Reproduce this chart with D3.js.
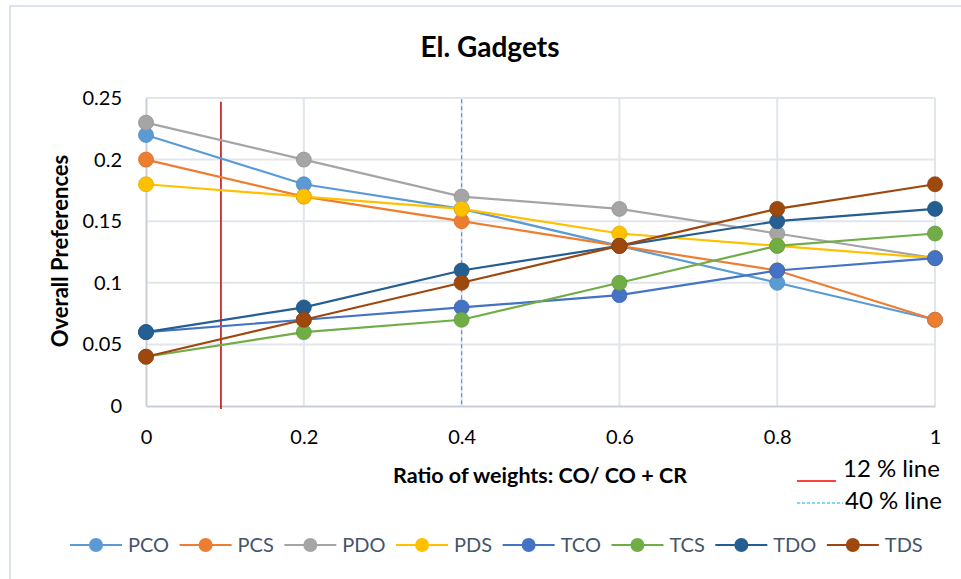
<!DOCTYPE html>
<html>
<head>
<meta charset="utf-8">
<script src="https://cdn.jsdelivr.net/npm/d3@7"></script>
<style>
  body { margin: 0; background: #fff; }
  svg { font-family: Lato, "Open Sans", sans-serif; }
</style>
</head>
<body>
<div id="chart"></div>
<script>
// values
const ratios = [0, 0.2, 0.4, 0.6, 0.8, 1]
const seriesNames = ['PCO', 'PCS', 'PDO', 'PDS', 'TCO', 'TCS', 'TDO', 'TDS']
const PCO = [0.22, 0.18, 0.16, 0.13, 0.10, 0.07]
const PCS = [0.20, 0.17, 0.15, 0.13, 0.11, 0.07]
const PDO = [0.23, 0.20, 0.17, 0.16, 0.14, 0.12]
const PDS = [0.18, 0.17, 0.16, 0.14, 0.13, 0.12]
const TCO = [0.06, 0.07, 0.08, 0.09, 0.11, 0.12]
const TCS = [0.04, 0.06, 0.07, 0.10, 0.13, 0.14]
const TDO = [0.06, 0.08, 0.11, 0.13, 0.15, 0.16]
const TDS = [0.04, 0.07, 0.10, 0.13, 0.16, 0.18]
const xTicks = [0, 0.2, 0.4, 0.6, 0.8, 1]
const yTicks = [0, 0.05, 0.1, 0.15, 0.2, 0.25]
const redLineAt = 0.095
const blueLineAt = 0.4

const colors = ['#5b9bd5', '#ed7d31', '#a5a5a5', '#ffc000', '#4472c4', '#70ad47', '#255e91', '#9e480e']
const values = [PCO, PCS, PDO, PDS, TCO, TCS, TDO, TDS]

const W = 961, H = 579
const margin = {top: 98, right: 26, bottom: 173, left: 146}
const width = W - margin.left - margin.right
const height = H - margin.top - margin.bottom

const svg = d3.select('#chart').append('svg')
    .attr('width', W)
    .attr('height', H)

// chart frame
svg.append('rect')
    .attr('x', 10).attr('y', 6)
    .attr('width', W + 10).attr('height', H + 10)
    .attr('fill', 'none')
    .attr('stroke', '#dde3ec')
    .attr('stroke-width', 2)

const g = svg.append('g')
    .attr('transform', 'translate(' + margin.left + ',' + margin.top + ')')

const x = d3.scaleLinear().domain([0, 1]).range([0, width])
const y = d3.scaleLinear().domain([0, 0.25]).range([height, 0])

// gridlines
g.append('g').selectAll('line.hg')
    .data(yTicks.slice(1))
    .join('line')
    .attr('x1', 0).attr('x2', width)
    .attr('y1', d => y(d)).attr('y2', d => y(d))
    .attr('stroke', '#e1e5ec').attr('stroke-width', 2)

g.append('g').selectAll('line.vg')
    .data(xTicks.slice(1))
    .join('line')
    .attr('x1', d => x(d)).attr('x2', d => x(d))
    .attr('y1', 0).attr('y2', height)
    .attr('stroke', '#e1e5ec').attr('stroke-width', 2)

// axes
const xAxis = d3.axisBottom(x).tickValues(xTicks).tickSize(0).tickPadding(24)
    .tickFormat(d => d3.format('')(d))
const yAxis = d3.axisLeft(y).tickValues(yTicks).tickSize(0).tickPadding(24)
    .tickFormat(d => d3.format('')(d))

const gx = g.append('g')
    .attr('transform', 'translate(0,' + height + ')')
    .call(xAxis)
gx.select('.domain').attr('stroke', '#c9ced8').attr('stroke-width', 2)
gx.selectAll('text').attr('font-size', 20).attr('fill', '#000').attr('font-family', 'Lato')

const gy = g.append('g').call(yAxis)
gy.select('.domain').attr('stroke', '#c9ced8').attr('stroke-width', 2)
gy.selectAll('text').attr('font-size', 20).attr('fill', '#000').attr('font-family', 'Lato')
    .attr('dy', '0.32em')

// reference lines
g.append('line')
    .attr('x1', x(redLineAt)).attr('x2', x(redLineAt))
    .attr('y1', y(0.247)).attr('y2', height + 3)
    .attr('stroke', '#c00000').attr('stroke-width', 1.5)

g.append('line')
    .attr('x1', x(blueLineAt)).attr('x2', x(blueLineAt))
    .attr('y1', y(0.249)).attr('y2', height)
    .attr('stroke', '#5b9bd5').attr('stroke-width', 1.2)
    .attr('stroke-dasharray', '4,3')

// series
const line = d3.line()
    .x((d, i) => x(ratios[i]))
    .y(d => y(d))

seriesNames.forEach((name, k) => {
    const s = g.append('g').attr('class', 'series-' + name)
    s.append('path')
        .datum(values[k])
        .attr('d', line)
        .attr('fill', 'none')
        .attr('stroke', colors[k])
        .attr('stroke-width', 2.2)
    s.selectAll('circle')
        .data(values[k])
        .join('circle')
        .attr('cx', (d, i) => x(ratios[i]))
        .attr('cy', d => y(d))
        .attr('r', 7.5)
        .attr('fill', colors[k])
        .attr('stroke', d3.color(colors[k]).darker(0.3))
        .attr('stroke-width', 0.8)
})

// title and axis labels
svg.append('text')
    .attr('x', 490).attr('y', 57)
    .attr('text-anchor', 'middle')
    .attr('font-size', 28).attr('font-weight', 'bold')
    .text('El. Gadgets')

svg.append('text')
    .attr('x', 540).attr('y', 483)
    .attr('text-anchor', 'middle')
    .attr('font-size', 21.5).attr('font-weight', 'bold')
    .text('Ratio of weights: CO/ CO + CR')

svg.append('text')
    .attr('transform', 'translate(68,251) rotate(-90)')
    .attr('text-anchor', 'middle')
    .attr('font-size', 22).attr('font-weight', 'bold')
    .text('Overall Preferences')

// annotation key for reference lines
svg.append('line')
    .attr('x1', 797).attr('x2', 836).attr('y1', 481).attr('y2', 481)
    .attr('stroke', '#ff0000').attr('stroke-width', 1.5)
svg.append('text')
    .attr('x', 843).attr('y', 477)
    .attr('font-size', 24).attr('fill', '#000')
    .text('12 % line')
svg.append('line')
    .attr('x1', 797).attr('x2', 843).attr('y1', 503).attr('y2', 503)
    .attr('stroke', '#00b0f0').attr('stroke-width', 1.2)
    .attr('stroke-dasharray', '3,2')
svg.append('text')
    .attr('x', 845).attr('y', 509)
    .attr('font-size', 24).attr('fill', '#000')
    .text('40 % line')

// legend
const legend = svg.append('g').attr('transform', 'translate(70,545)')
let lx = 0
seriesNames.forEach((name, k) => {
    const item = legend.append('g').attr('transform', 'translate(' + lx + ',0)')
    item.append('line')
        .attr('x1', 0).attr('x2', 52).attr('y1', 0).attr('y2', 0)
        .attr('stroke', colors[k]).attr('stroke-width', 2.2)
    item.append('circle')
        .attr('cx', 26).attr('cy', 0).attr('r', 7)
        .attr('fill', colors[k])
    const t = item.append('text')
        .attr('x', 58).attr('y', 0).attr('dy', '0.35em')
        .attr('font-size', 20).attr('fill', '#44546a')
        .text(name)
    lx += 58 + t.node().getComputedTextLength() + 10.5
})
</script>
</body>
</html>
